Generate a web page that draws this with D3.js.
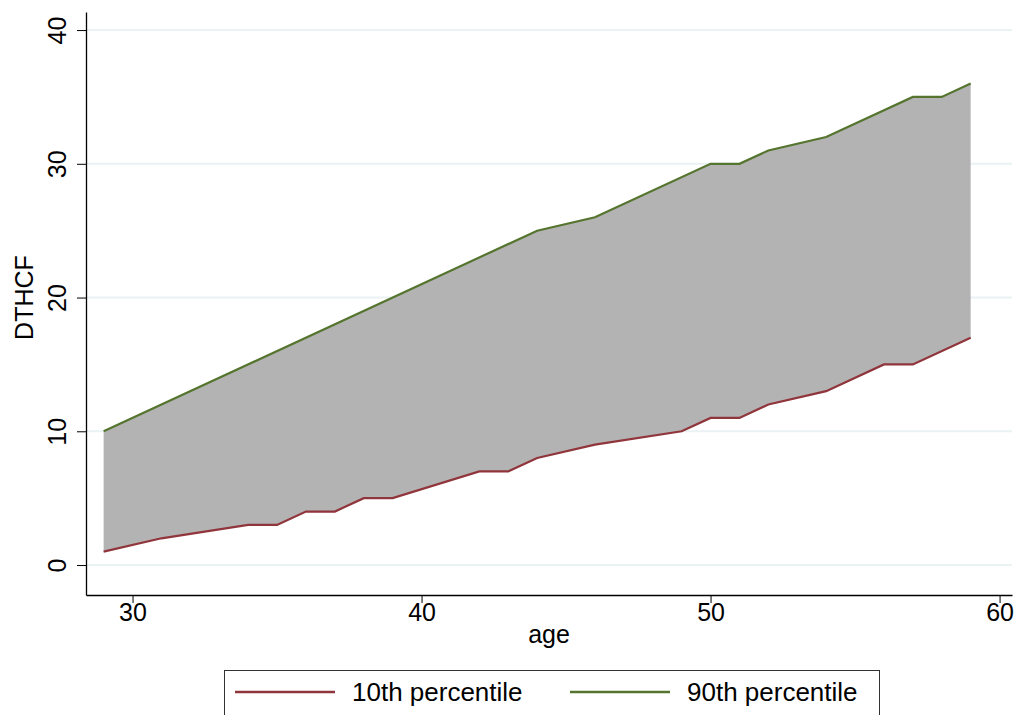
<!DOCTYPE html>
<html>
<head>
<meta charset="utf-8">
<script src="https://cdn.jsdelivr.net/npm/d3@7"></script>
<style>
  body { margin: 0; background: white; }
  text { font-family: "Liberation Sans", Arial, sans-serif; fill: #000; }
</style>
</head>
<body>
<div class="container"></div>
<script>
// 10th / 90th percentile of DTHCF by age (break points)
const lowAges = [29, 31, 34, 35, 36, 37, 38, 39, 42, 43, 44, 46, 49, 50, 51, 52, 54, 56, 57, 59];
const lowVals = [1, 2, 3, 3, 4, 4, 5, 5, 7, 7, 8, 9, 10, 11, 11, 12, 13, 15, 15, 17];
const highAges = [29, 44, 46, 50, 51, 52, 54, 57, 58, 59];
const highVals = [10, 25, 26, 30, 30, 31, 32, 35, 35, 36];
const xTicks = [30, 40, 50, 60];
const yTicks = [0, 10, 20, 30, 40];
const legendLabels = ["10th percentile", "90th percentile"];

const w = 1016;
const h = 715;
const padL = 86, padR = 1012, padT = 12, padB = 595;

const low = lowAges.map((a, i) => [a, lowVals[i]]);
const high = highAges.map((a, i) => [a, highVals[i]]);

const svg = d3.select(".container")
    .append("svg")
    .attr("width", w)
    .attr("height", h)
    .style("background", "white");

const xScale = d3.scaleLinear()
    .domain([28.39, 60.43])
    .range([padL, padR]);

const yScale = d3.scaleLinear()
    .domain([-2.24, 41.35])
    .range([padB, padT]);

// gridlines
svg.append("g")
    .selectAll("line")
    .data(yTicks)
    .enter()
    .append("line")
    .attr("x1", padL)
    .attr("x2", padR)
    .attr("y1", d => yScale(d))
    .attr("y2", d => yScale(d))
    .attr("stroke", "#eaf2f3")
    .attr("stroke-width", 2);

// band between the two percentiles: merge the age grids without inventing values
const interp = (pts, a) => {
    for (let i = 0; i < pts.length - 1; i++) {
        if (a >= pts[i][0] && a <= pts[i + 1][0]) {
            const t = (a - pts[i][0]) / (pts[i + 1][0] - pts[i][0]);
            return pts[i][1] + t * (pts[i + 1][1] - pts[i][1]);
        }
    }
    return pts[pts.length - 1][1];
};
const allAges = Array.from(new Set(lowAges.concat(highAges))).sort((a, b) => a - b);

const area = d3.area()
    .x(a => xScale(a))
    .y0(a => yScale(interp(low, a)))
    .y1(a => yScale(interp(high, a)));

svg.append("path")
    .datum(allAges)
    .attr("d", area)
    .attr("fill", "#b3b3b3");

const line = d3.line()
    .x(d => xScale(d[0]))
    .y(d => yScale(d[1]));

svg.append("path")
    .datum(low)
    .attr("d", line)
    .attr("fill", "none")
    .attr("stroke", "#90353b")
    .attr("stroke-width", 2.2);

svg.append("path")
    .datum(high)
    .attr("d", line)
    .attr("fill", "none")
    .attr("stroke", "#55752f")
    .attr("stroke-width", 2.2);

// axes
const xAxis = d3.axisBottom(xScale).tickValues(xTicks).tickSizeInner(8).tickSizeOuter(0).tickPadding(0);
const yAxis = d3.axisLeft(yScale).tickValues(yTicks).tickSizeInner(9).tickSizeOuter(0).tickPadding(4);

const gx = svg.append("g")
    .attr("transform", "translate(0," + padB + ")")
    .call(xAxis);
gx.selectAll("text").style("font-size", "25px").attr("font-family", null);

const gy = svg.append("g")
    .attr("transform", "translate(" + padL + ",0)")
    .call(yAxis);
gy.selectAll("text")
    .style("font-size", "25px")
    .attr("font-family", null)
    .attr("text-anchor", "middle")
    .attr("dy", null)
    .attr("x", null)
    .attr("transform", "translate(-29,0) rotate(-90)")
    .attr("y", 9);

svg.selectAll(".domain").attr("stroke", "#000").attr("stroke-width", 1.3);
svg.selectAll(".tick line").attr("stroke", "#000").attr("stroke-width", 1);

// axis titles
svg.append("text")
    .attr("x", (padL + padR) / 2)
    .attr("y", 643)
    .attr("text-anchor", "middle")
    .style("font-size", "25px")
    .text("age");

svg.append("text")
    .attr("transform", "translate(33," + yScale(20) + ") rotate(-90)")
    .attr("text-anchor", "middle")
    .style("font-size", "25px")
    .text("DTHCF");

// legend
const legend = svg.append("g");
legend.append("rect")
    .attr("x", 224.5)
    .attr("y", 670.5)
    .attr("width", 655)
    .attr("height", 60)
    .attr("fill", "white")
    .attr("stroke", "#333")
    .attr("stroke-width", 1);

const legendColors = ["#90353b", "#55752f"];
const legendX = [235, 570];
legendLabels.forEach((lab, i) => {
    legend.append("line")
        .attr("x1", legendX[i])
        .attr("x2", legendX[i] + 100)
        .attr("y1", 692)
        .attr("y2", 692)
        .attr("stroke", legendColors[i])
        .attr("stroke-width", 2.5);
    legend.append("text")
        .attr("x", legendX[i] + 117)
        .attr("y", 701)
        .style("font-size", "26px")
        .text(lab);
});
</script>
</body>
</html>
